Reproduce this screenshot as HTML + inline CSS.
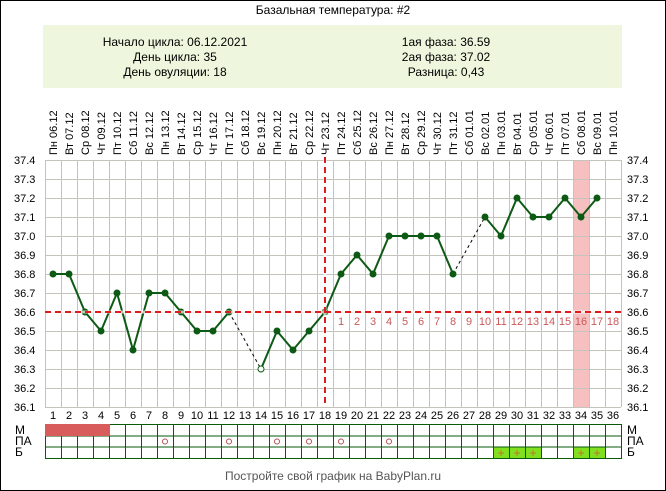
<!DOCTYPE html>
<html><head><meta charset="utf-8"><style>
body{margin:0;background:#fff}
svg{display:block;font-family:"Liberation Sans",Arial,sans-serif}
</style></head><body>
<svg width="666" height="491" viewBox="0 0 666 491" xmlns="http://www.w3.org/2000/svg">
<rect x="0.5" y="0.5" width="665" height="490" fill="#fff" stroke="#000"/>
<text x="333" y="14" font-size="12" text-anchor="middle" fill="#000">Базальная температура: #2</text>
<rect x="43" y="25" width="579" height="63" fill="#eef7dd"/>
<g font-size="12" fill="#000" text-anchor="middle">
<text x="175" y="46">Начало цикла: 06.12.2021</text>
<text x="175" y="61">День цикла: 35</text>
<text x="175" y="76">День овуляции: 18</text>
<text x="446" y="46">1ая фаза: 36.59</text>
<text x="446" y="61">2ая фаза: 37.02</text>
<text x="446" y="76">Разница: 0,43</text>
</g>
<g font-size="11" fill="#000">
<text transform="translate(57,155) rotate(-90)">Пн 06.12</text>
<text transform="translate(73,155) rotate(-90)">Вт 07.12</text>
<text transform="translate(89,155) rotate(-90)">Ср 08.12</text>
<text transform="translate(105,155) rotate(-90)">Чт 09.12</text>
<text transform="translate(121,155) rotate(-90)">Пт 10.12</text>
<text transform="translate(137,155) rotate(-90)">Сб 11.12</text>
<text transform="translate(153,155) rotate(-90)">Вс 12.12</text>
<text transform="translate(169,155) rotate(-90)">Пн 13.12</text>
<text transform="translate(185,155) rotate(-90)">Вт 14.12</text>
<text transform="translate(201,155) rotate(-90)">Ср 15.12</text>
<text transform="translate(217,155) rotate(-90)">Чт 16.12</text>
<text transform="translate(233,155) rotate(-90)">Пт 17.12</text>
<text transform="translate(249,155) rotate(-90)">Сб 18.12</text>
<text transform="translate(265,155) rotate(-90)">Вс 19.12</text>
<text transform="translate(281,155) rotate(-90)">Пн 20.12</text>
<text transform="translate(297,155) rotate(-90)">Вт 21.12</text>
<text transform="translate(313,155) rotate(-90)">Ср 22.12</text>
<text transform="translate(329,155) rotate(-90)">Чт 23.12</text>
<text transform="translate(345,155) rotate(-90)">Пт 24.12</text>
<text transform="translate(361,155) rotate(-90)">Сб 25.12</text>
<text transform="translate(377,155) rotate(-90)">Вс 26.12</text>
<text transform="translate(393,155) rotate(-90)">Пн 27.12</text>
<text transform="translate(409,155) rotate(-90)">Вт 28.12</text>
<text transform="translate(425,155) rotate(-90)">Ср 29.12</text>
<text transform="translate(441,155) rotate(-90)">Чт 30.12</text>
<text transform="translate(457,155) rotate(-90)">Пт 31.12</text>
<text transform="translate(473,155) rotate(-90)">Сб 01.01</text>
<text transform="translate(489,155) rotate(-90)">Вс 02.01</text>
<text transform="translate(505,155) rotate(-90)">Пн 03.01</text>
<text transform="translate(521,155) rotate(-90)">Вт 04.01</text>
<text transform="translate(537,155) rotate(-90)">Ср 05.01</text>
<text transform="translate(553,155) rotate(-90)">Чт 06.01</text>
<text transform="translate(569,155) rotate(-90)">Пт 07.01</text>
<text transform="translate(585,155) rotate(-90)">Сб 08.01</text>
<text transform="translate(601,155) rotate(-90)">Вс 09.01</text>
<text transform="translate(617,155) rotate(-90)">Пн 10.01</text>
</g>
<rect x="573" y="160" width="16" height="247" fill="#f6c0c0"/>
<g stroke="#c4c4bc" stroke-width="1">
<path d="M45.5 160V407M61.5 160V407M77.5 160V407M93.5 160V407M109.5 160V407M125.5 160V407M141.5 160V407M157.5 160V407M173.5 160V407M189.5 160V407M205.5 160V407M221.5 160V407M237.5 160V407M253.5 160V407M269.5 160V407M285.5 160V407M301.5 160V407M317.5 160V407M333.5 160V407M349.5 160V407M365.5 160V407M381.5 160V407M397.5 160V407M413.5 160V407M429.5 160V407M445.5 160V407M461.5 160V407M477.5 160V407M493.5 160V407M509.5 160V407M525.5 160V407M541.5 160V407M557.5 160V407M573.5 160V407M589.5 160V407M605.5 160V407M621.5 160V407"/>
<path d="M45 160.5H621M45 179.5H621M45 198.5H621M45 217.5H621M45 236.5H621M45 255.5H621M45 274.5H621M45 293.5H621M45 312.5H621M45 331.5H621M45 350.5H621M45 369.5H621M45 388.5H621M45 407.5H621"/>
</g>
<g font-size="11" fill="#000">
<text x="14" y="164">37.4</text><text x="14" y="183">37.3</text><text x="14" y="202">37.2</text><text x="14" y="221">37.1</text><text x="14" y="240">37.0</text><text x="14" y="259">36.9</text><text x="14" y="278">36.8</text><text x="14" y="297">36.7</text><text x="14" y="316">36.6</text><text x="14" y="335">36.5</text><text x="14" y="354">36.4</text><text x="14" y="373">36.3</text><text x="14" y="392">36.2</text><text x="14" y="411">36.1</text>
<text x="627" y="164">37.4</text><text x="627" y="183">37.3</text><text x="627" y="202">37.2</text><text x="627" y="221">37.1</text><text x="627" y="240">37.0</text><text x="627" y="259">36.9</text><text x="627" y="278">36.8</text><text x="627" y="297">36.7</text><text x="627" y="316">36.6</text><text x="627" y="335">36.5</text><text x="627" y="354">36.4</text><text x="627" y="373">36.3</text><text x="627" y="392">36.2</text><text x="627" y="411">36.1</text>
</g>
<g font-size="11" fill="#c85a5a" text-anchor="middle">
<text x="341" y="325">1</text><text x="357" y="325">2</text><text x="373" y="325">3</text><text x="389" y="325">4</text><text x="405" y="325">5</text><text x="421" y="325">6</text><text x="437" y="325">7</text><text x="453" y="325">8</text><text x="469" y="325">9</text><text x="485" y="325">10</text><text x="501" y="325">11</text><text x="517" y="325">12</text><text x="533" y="325">13</text><text x="549" y="325">14</text><text x="565" y="325">15</text><text x="581" y="325">16</text><text x="597" y="325">17</text><text x="613" y="325">18</text>
</g>
<g stroke="#000" stroke-width="1" stroke-dasharray="3,3" fill="none">
<path d="M229 312L261 369M453 274L485 217"/>
</g>
<polyline fill="none" stroke="#0d5a14" stroke-width="2" points="53,274 69,274 85,312 101,331 117,293 133,350 149,293 165,293 181,312 197,331 213,331 229,312"/>
<polyline fill="none" stroke="#0d5a14" stroke-width="2" points="261,369 277,331 293,350 309,331 325,312 341,274 357,255 373,274 389,236 405,236 421,236 437,236 453,274"/>
<polyline fill="none" stroke="#0d5a14" stroke-width="2" points="485,217 501,236 517,198 533,217 549,217 565,198 581,217 597,198"/>
<g fill="#0d5a14">
<circle cx="53" cy="274" r="3.5"/><circle cx="69" cy="274" r="3.5"/><circle cx="85" cy="312" r="3.5"/><circle cx="101" cy="331" r="3.5"/><circle cx="117" cy="293" r="3.5"/><circle cx="133" cy="350" r="3.5"/><circle cx="149" cy="293" r="3.5"/><circle cx="165" cy="293" r="3.5"/><circle cx="181" cy="312" r="3.5"/><circle cx="197" cy="331" r="3.5"/><circle cx="213" cy="331" r="3.5"/><circle cx="229" cy="312" r="3.5"/><circle cx="277" cy="331" r="3.5"/><circle cx="293" cy="350" r="3.5"/><circle cx="309" cy="331" r="3.5"/><circle cx="325" cy="312" r="3.5"/><circle cx="341" cy="274" r="3.5"/><circle cx="357" cy="255" r="3.5"/><circle cx="373" cy="274" r="3.5"/><circle cx="389" cy="236" r="3.5"/><circle cx="405" cy="236" r="3.5"/><circle cx="421" cy="236" r="3.5"/><circle cx="437" cy="236" r="3.5"/><circle cx="453" cy="274" r="3.5"/><circle cx="485" cy="217" r="3.5"/><circle cx="501" cy="236" r="3.5"/><circle cx="517" cy="198" r="3.5"/><circle cx="533" cy="217" r="3.5"/><circle cx="549" cy="217" r="3.5"/><circle cx="565" cy="198" r="3.5"/><circle cx="581" cy="217" r="3.5"/><circle cx="597" cy="198" r="3.5"/>
</g>
<circle cx="261" cy="369" r="3" fill="#fff" stroke="#0d5a14" stroke-width="1"/>
<path d="M45 312H621M325 157V407" stroke="#fff" stroke-width="3" fill="none" opacity="0.7"/>
<path d="M45 312H621M325 157V407" stroke="#dd1c1c" stroke-width="2" stroke-dasharray="6,4" fill="none"/>
<g font-size="11" fill="#000" text-anchor="middle">
<text x="53" y="419">1</text><text x="69" y="419">2</text><text x="85" y="419">3</text><text x="101" y="419">4</text><text x="117" y="419">5</text><text x="133" y="419">6</text><text x="149" y="419">7</text><text x="165" y="419">8</text><text x="181" y="419">9</text><text x="197" y="419">10</text><text x="213" y="419">11</text><text x="229" y="419">12</text><text x="245" y="419">13</text><text x="261" y="419">14</text><text x="277" y="419">15</text><text x="293" y="419">16</text><text x="309" y="419">17</text><text x="325" y="419">18</text><text x="341" y="419">19</text><text x="357" y="419">20</text><text x="373" y="419">21</text><text x="389" y="419">22</text><text x="405" y="419">23</text><text x="421" y="419">24</text><text x="437" y="419">25</text><text x="453" y="419">26</text><text x="469" y="419">27</text><text x="485" y="419">28</text><text x="501" y="419">29</text><text x="517" y="419">30</text><text x="533" y="419">31</text><text x="549" y="419">32</text><text x="565" y="419">33</text><text x="581" y="419">34</text><text x="597" y="419">35</text><text x="613" y="419">36</text>
</g>
<g fill="#80e020"><rect x="493" y="447" width="48" height="11"/><rect x="573" y="447" width="32" height="11"/></g>
<g stroke="#0a5a0a" stroke-width="1" fill="none">
<path d="M45 424.5H621M45 436H621M45 447H621M45 458.5H621"/>
<path d="M45.5 424V459M61.5 424V459M77.5 424V459M93.5 424V459M109.5 424V459M125.5 424V459M141.5 424V459M157.5 424V459M173.5 424V459M189.5 424V459M205.5 424V459M221.5 424V459M237.5 424V459M253.5 424V459M269.5 424V459M285.5 424V459M301.5 424V459M317.5 424V459M333.5 424V459M349.5 424V459M365.5 424V459M381.5 424V459M397.5 424V459M413.5 424V459M429.5 424V459M445.5 424V459M461.5 424V459M477.5 424V459M493.5 424V459M509.5 424V459M525.5 424V459M541.5 424V459M557.5 424V459M573.5 424V459M589.5 424V459M605.5 424V459M621.5 424V459"/>
</g>
<rect x="45" y="424" width="65" height="12" fill="#d85c5c"/>
<g fill="none" stroke="#b05050" stroke-width="1">
<circle cx="165" cy="441.5" r="2.5"/><circle cx="229" cy="441.5" r="2.5"/><circle cx="277" cy="441.5" r="2.5"/><circle cx="309" cy="441.5" r="2.5"/><circle cx="341" cy="441.5" r="2.5"/><circle cx="389" cy="441.5" r="2.5"/>
</g>
<g font-size="12" fill="#c86a2a" text-anchor="middle">
<text x="501" y="457">+</text><text x="517" y="457">+</text><text x="533" y="457">+</text><text x="581" y="457">+</text><text x="597" y="457">+</text>
</g>
<g font-size="12" fill="#000">
<text x="15" y="434">М</text><text x="15" y="445">ПА</text><text x="15" y="456">Б</text>
<text x="627" y="434">М</text><text x="627" y="445">ПА</text><text x="627" y="456">Б</text>
</g>
<text x="333" y="480" font-size="12" fill="#555" text-anchor="middle">Постройте свой график на BabyPlan.ru</text>
</svg>
</body></html>
